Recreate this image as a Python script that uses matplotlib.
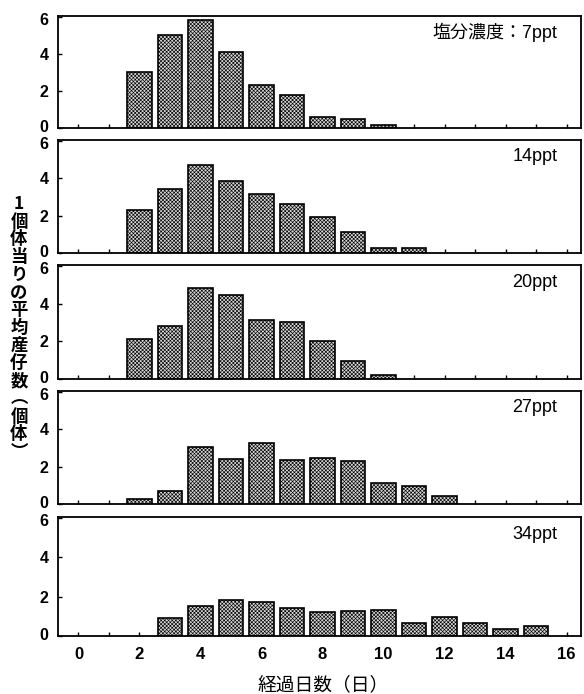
import matplotlib
matplotlib.use("Agg")
import matplotlib.pyplot as plt
from matplotlib.transforms import ScaledTranslation

plt.rcParams['font.family'] = ['Liberation Sans', 'Noto Sans CJK JP', 'DejaVu Sans']
plt.rcParams['hatch.color'] = '#6a6a6a'
plt.rcParams['hatch.linewidth'] = 0.45

days_7 = [2, 3, 4, 5, 6, 7, 8, 9, 10]
vals_7 = [3.0, 5.0, 5.85, 4.1, 2.3, 1.8, 0.6, 0.5, 0.15]
days_14 = [2, 3, 4, 5, 6, 7, 8, 9, 10, 11]
vals_14 = [2.3, 3.45, 4.7, 3.85, 3.15, 2.6, 1.95, 1.15, 0.25, 0.25]
days_20 = [2, 3, 4, 5, 6, 7, 8, 9, 10]
vals_20 = [2.1, 2.8, 4.85, 4.45, 3.15, 3.0, 2.0, 0.95, 0.2]
days_27 = [2, 3, 4, 5, 6, 7, 8, 9, 10, 11, 12]
vals_27 = [0.25, 0.7, 3.05, 2.4, 3.25, 2.35, 2.45, 2.3, 1.15, 0.95, 0.45]
days_34 = [3, 4, 5, 6, 7, 8, 9, 10, 11, 12, 13, 14, 15]
vals_34 = [0.9, 1.5, 1.85, 1.75, 1.4, 1.2, 1.25, 1.3, 0.65, 0.95, 0.65, 0.35, 0.5]

panel_labels = ['塩分濃度：7ppt', '14ppt', '20ppt', '27ppt', '34ppt']
series = [(days_7, vals_7), (days_14, vals_14), (days_20, vals_20),
          (days_27, vals_27), (days_34, vals_34)]
x_ticks = list(range(0, 17))
x_ticklabels = [str(t) if t % 2 == 0 else '' for t in x_ticks]
y_ticks = [0, 2, 4, 6]

W, H = 584, 694
fig = plt.figure(figsize=(W / 100, H / 100), dpi=100)

# (top, bottom) pixel positions of each panel frame
frames = [(16, 128), (140, 253), (265, 379), (391, 504), (517, 636)]
left_px, right_px = 58, 581

for i, ((top, bot), (d, v), lab) in enumerate(zip(frames, series, panel_labels)):
    ax = fig.add_axes([left_px / W, 1 - bot / H, (right_px - left_px) / W, (bot - top) / H])
    ax.bar(d, v, width=0.8, facecolor='#d6d6d6', edgecolor='black', linewidth=1.2,
           hatch='xxxxxxxxx', zorder=2)
    ax.set_xlim(-0.67, 16.47)
    ax.set_ylim(0, 6.05)
    ax.set_xticks(x_ticks)
    ax.set_yticks(y_ticks)
    ax.tick_params(axis='both', direction='in', length=3, width=1.0,
                   labelsize=11.5, colors='black')
    ax.tick_params(axis='y', pad=7)
    ylabels = ax.get_yticklabels()
    for t in ylabels:
        t.set_fontweight('bold')
    # nudge the outer labels so stacked panels' 0 and 6 don't collide
    ylabels[0].set_transform(ylabels[0].get_transform() + ScaledTranslation(0, 2 / 100, fig.dpi_scale_trans))
    ylabels[-1].set_transform(ylabels[-1].get_transform() + ScaledTranslation(0, -2.5 / 100, fig.dpi_scale_trans))
    if i < 4:
        ax.set_xticklabels([])
    else:
        ax.set_xticklabels(x_ticklabels)
        ax.tick_params(axis='x', pad=8, labelsize=12)
        for t in ax.get_xticklabels():
            t.set_fontweight('bold')
    for sp in ax.spines.values():
        sp.set_linewidth(1.3)
    ax.text(0.955, 0.85, lab, transform=ax.transAxes, ha='right', va='center',
            fontsize=13)

fig.text(323 / W, 1 - 685 / H, '経過日数（日）', ha='center', va='center',
         fontsize=13.5)

ylabel_chars = ['1', '個', '体', '当', 'り', 'の', '平', '均', '産', '仔', '数', '︵', '個', '体', '︶']
fig.text(19 / W, 1 - 328 / H, '\n'.join(ylabel_chars), ha='center', va='center',
         fontsize=12.5, fontweight='bold', linespacing=0.98,
         family=['Noto Sans CJK JP', 'DejaVu Sans'])

fig.savefig('out.png', dpi=100)
